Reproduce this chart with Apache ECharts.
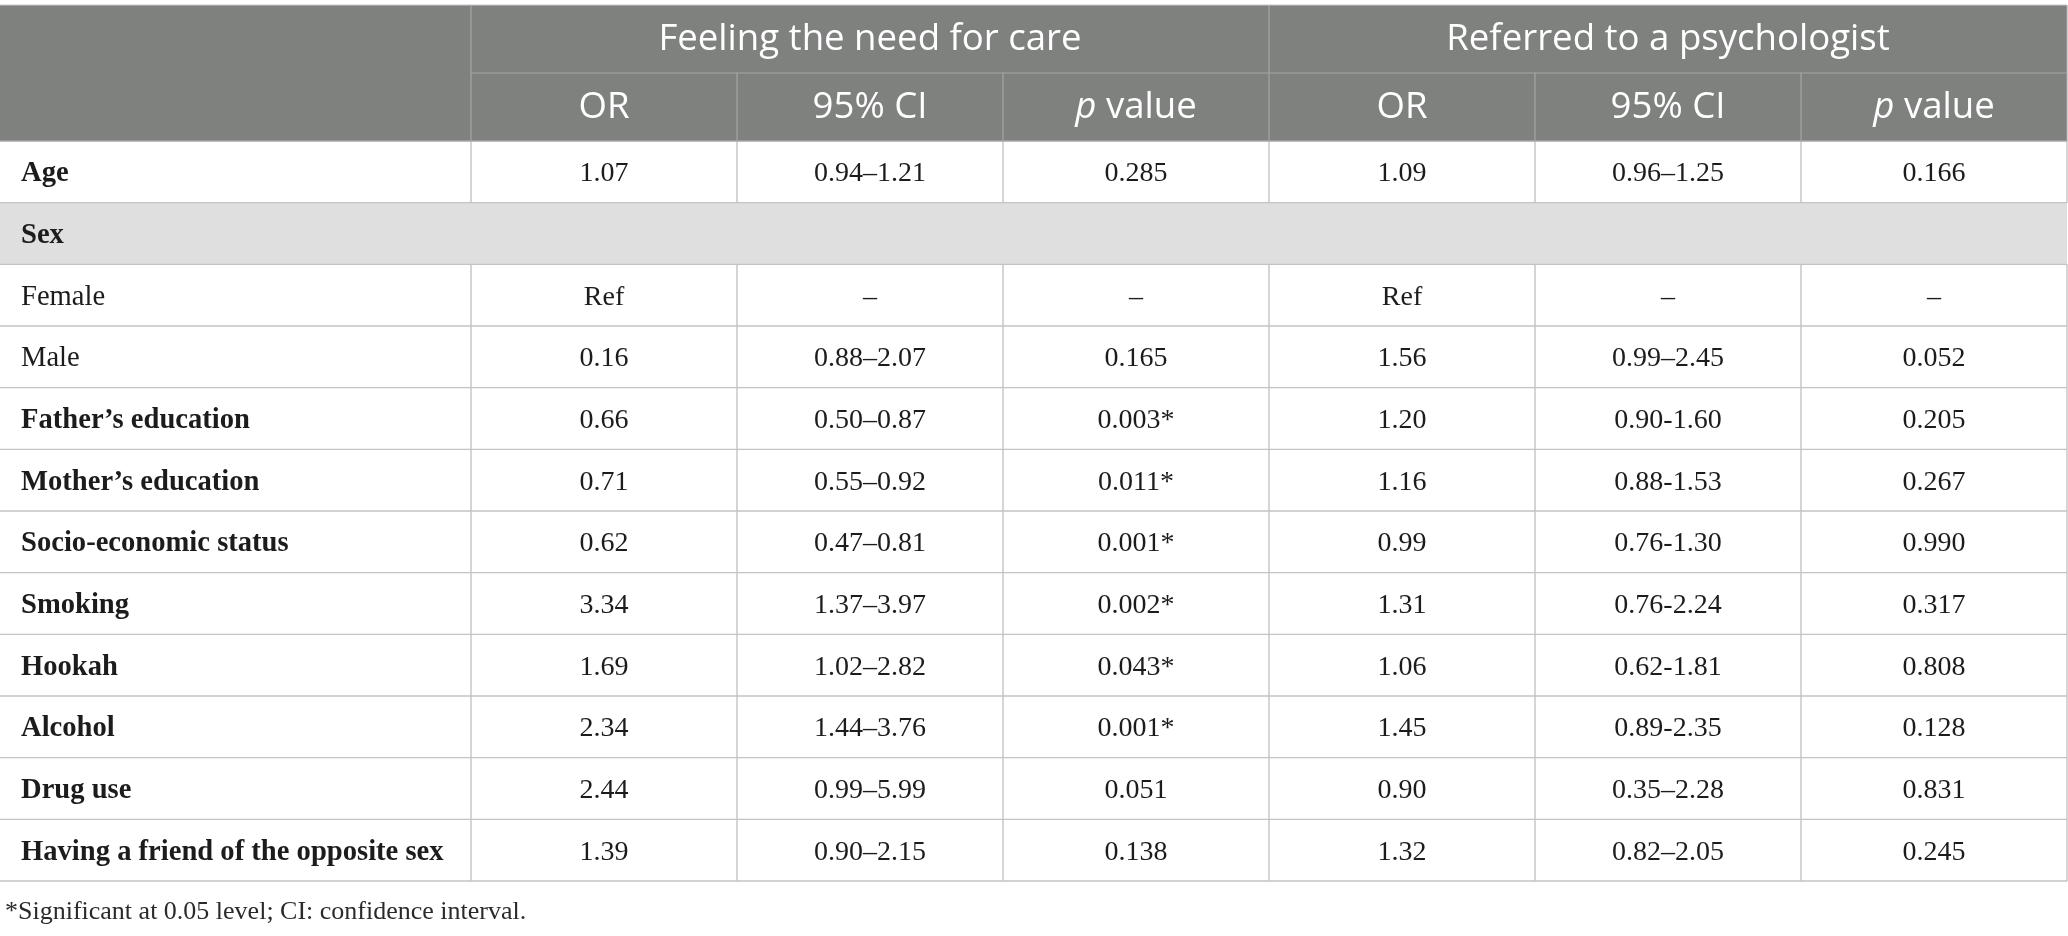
<!DOCTYPE html>
<html>
<head>
<meta charset="utf-8">
<script src="https://cdn.jsdelivr.net/npm/echarts@6/dist/echarts.min.js"></script>
<style>
html,body{margin:0;padding:0;background:#fff;}
#chart{width:2068px;height:936px;}
</style>
</head>
<body>
<div id="chart"></div>
<script>
// ---- data ----
const rowLabels = ['Age', 'Sex', 'Female', 'Male', 'Father\u2019s education', 'Mother\u2019s education',
  'Socio-economic status', 'Smoking', 'Hookah', 'Alcohol', 'Drug use', 'Having a friend of the opposite sex'];
const groupRows = ['Sex'];
const plainRows = ['Female', 'Male'];
const groupHeaders = ['Feeling the need for care', 'Referred to a psychologist'];
const subHeaders = ['OR', '95% CI', 'p value', 'OR', '95% CI', 'p value'];
const needOR = ['1.07', '', 'Ref', '0.16', '0.66', '0.71', '0.62', '3.34', '1.69', '2.34', '2.44', '1.39'];
const needCI = ['0.94\u20131.21', '', '\u2013', '0.88\u20132.07', '0.50\u20130.87', '0.55\u20130.92', '0.47\u20130.81',
  '1.37\u20133.97', '1.02\u20132.82', '1.44\u20133.76', '0.99\u20135.99', '0.90\u20132.15'];
const needP = ['0.285', '', '\u2013', '0.165', '0.003*', '0.011*', '0.001*', '0.002*', '0.043*', '0.001*', '0.051', '0.138'];
const refOR = ['1.09', '', 'Ref', '1.56', '1.20', '1.16', '0.99', '1.31', '1.06', '1.45', '0.90', '1.32'];
const refCI = ['0.96\u20131.25', '', '\u2013', '0.99\u20132.45', '0.90-1.60', '0.88-1.53', '0.76-1.30',
  '0.76-2.24', '0.62-1.81', '0.89-2.35', '0.35\u20132.28', '0.82\u20132.05'];
const refP = ['0.166', '', '\u2013', '0.052', '0.205', '0.267', '0.990', '0.317', '0.808', '0.128', '0.831', '0.245'];
const footnote = '*Significant at 0.05 level; CI: confidence interval.';

// ---- styling ----
const HEAD_BG = '#7f817f';
const HEAD_LINE = '#a4a6a4';
const BODY_LINE = '#c3c3c3';
const GROUP_BG = '#e0dfe0';
const TEXT = '#1c1c1c';
const SERIF = '"Liberation Serif", "DejaVu Serif", serif';
const SANS = '"Open Sans", "Noto Sans", sans-serif';
const BODY_SIZE = 28;
const LABEL_SIZE = 28.6;
const HEAD_SIZE = 36.6;

const columns = [needOR, needCI, needP, refOR, refCI, refP];
const colKeys = subHeaders.map((s, i) => 'c' + i);

function cell(api) {
  const c = api.coord([api.value(0), api.value(1)]);
  const s = api.size([1, 1]);
  return { x: c[0] - s[0] / 2, y: c[1] - s[1] / 2, w: s[0], h: s[1] };
}
function line(x1, y1, x2, y2, color, w) {
  return { type: 'line', z2: 10, shape: { x1, y1, x2, y2 }, style: { stroke: color, lineWidth: w } };
}

// body cells
const bodyData = [];
rowLabels.forEach((lab, r) => {
  columns.forEach((col, c) => bodyData.push([c, r, col[r]]));
});
const labelData = rowLabels.map((lab, r) => [0, r, lab]);

const option = {
  animation: false,
  backgroundColor: '#fff',
  title: {
    text: footnote, left: 0, top: 894,
    textStyle: { fontFamily: SERIF, fontSize: 26, fontWeight: 'normal', color: '#2a2a2a' }
  },
  grid: [
    { left: 0, width: 471, top: 141, height: 740 },
    { left: 471, width: 1596, top: 141, height: 740 },
    { left: 471, width: 1596, top: 5, height: 136 },
    { left: 0, width: 471, top: 5, height: 136 }
  ],
  xAxis: [
    { gridIndex: 0, type: 'category', data: ['label'], show: false },
    { gridIndex: 1, type: 'category', data: colKeys, show: false },
    { gridIndex: 2, type: 'category', data: colKeys, show: false },
    { gridIndex: 3, type: 'category', data: ['label'], show: false }
  ],
  yAxis: [
    { gridIndex: 0, type: 'category', data: rowLabels, inverse: true, show: false },
    { gridIndex: 1, type: 'category', data: rowLabels, inverse: true, show: false },
    { gridIndex: 2, type: 'category', data: ['group', 'sub'], inverse: true, show: false },
    { gridIndex: 3, type: 'category', data: ['head'], inverse: true, show: false }
  ],
  series: [
    {
      // first column labels
      type: 'custom', xAxisIndex: 0, yAxisIndex: 0, data: labelData,
      renderItem: function (params, api) {
        const b = cell(api);
        const lab = rowLabels[api.value(1)];
        const isGroup = groupRows.indexOf(lab) >= 0;
        const bold = plainRows.indexOf(lab) < 0;
        const ch = [
          { type: 'rect', z2: 0, shape: { x: b.x, y: b.y, width: b.w, height: b.h },
            style: { fill: isGroup ? GROUP_BG : '#fff' } },
          line(b.x, b.y + b.h, b.x + b.w, b.y + b.h, BODY_LINE, 1.4),
          { type: 'text', z2: 20, x: b.x + 21, y: b.y + b.h / 2 + 2,
            style: { text: lab, fill: TEXT, font: (bold ? 'bold ' : '') + LABEL_SIZE + 'px ' + SERIF,
              textAlign: 'left', textVerticalAlign: 'middle' } }
        ];
        if (!isGroup) ch.push(line(b.x + b.w, b.y, b.x + b.w, b.y + b.h, BODY_LINE, 1.4));
        return { type: 'group', children: ch };
      }
    },
    {
      // data cells
      type: 'custom', xAxisIndex: 1, yAxisIndex: 1, data: bodyData,
      renderItem: function (params, api) {
        const b = cell(api);
        const r = api.value(1);
        const lab = rowLabels[r];
        const isGroup = groupRows.indexOf(lab) >= 0;
        const txt = bodyData[params.dataIndex][2];
        const ch = [
          { type: 'rect', z2: 0, shape: { x: b.x, y: b.y, width: b.w, height: b.h },
            style: { fill: isGroup ? GROUP_BG : '#fff' } },
          line(b.x, b.y + b.h, b.x + b.w, b.y + b.h, BODY_LINE, 1.4),
          { type: 'text', z2: 20, x: b.x + b.w / 2, y: b.y + b.h / 2 + 2,
            style: { text: txt, fill: TEXT, font: BODY_SIZE + 'px ' + SERIF,
              textAlign: 'center', textVerticalAlign: 'middle' } }
        ];
        if (!isGroup) ch.push(line(b.x + b.w, b.y, b.x + b.w, b.y + b.h, BODY_LINE, 1.4));
        return { type: 'group', children: ch };
      }
    },
    {
      // header: group titles (span 3 columns) and sub headers
      type: 'custom', xAxisIndex: 2, yAxisIndex: 2,
      data: groupHeaders.map((g, i) => [i * 3, 0, g]).concat(subHeaders.map((s, i) => [i, 1, s])),
      renderItem: function (params, api) {
        const b = cell(api);
        const row = api.value(1);
        const span = row === 0 ? 3 : 1;
        const w = b.w * span;
        const txt = row === 0 ? groupHeaders[api.value(0) / 3] : subHeaders[api.value(0)];
        const isP = txt === 'p value';
        const ch = [
          { type: 'rect', z2: 0, shape: { x: b.x, y: b.y, width: w, height: b.h }, style: { fill: HEAD_BG } },
          line(b.x, b.y + b.h, b.x + w, b.y + b.h, HEAD_LINE, row === 0 ? 1.2 : 1.6),
          line(b.x + w, b.y, b.x + w, b.y + b.h, HEAD_LINE, 1.2),
          { type: 'text', z2: 20, x: b.x + w / 2, y: b.y + b.h / 2 + 1,
            style: {
              text: isP ? '{i|p} value' : txt,
              fill: '#fff', font: HEAD_SIZE + 'px ' + SANS,
              textAlign: 'center', textVerticalAlign: 'middle',
              rich: { i: { fontStyle: 'italic', fontFamily: SANS, fontSize: HEAD_SIZE, fill: '#fff' } }
            } }
        ];
        if (row === 0) ch.push(line(b.x, b.y, b.x + w, b.y, '#c9c9c9', 1.2));
        return { type: 'group', children: ch };
      }
    },
    {
      // header: empty top-left cell
      type: 'custom', xAxisIndex: 3, yAxisIndex: 3, data: [[0, 0]],
      renderItem: function (params, api) {
        const b = cell(api);
        return { type: 'group', children: [
          { type: 'rect', z2: 0, shape: { x: b.x, y: b.y, width: b.w, height: b.h }, style: { fill: HEAD_BG } },
          line(b.x, b.y, b.x + b.w, b.y, '#c9c9c9', 1.2),
          line(b.x, b.y + b.h, b.x + b.w, b.y + b.h, HEAD_LINE, 1.6),
          line(b.x + b.w, b.y, b.x + b.w, b.y + b.h, HEAD_LINE, 1.2)
        ] };
      }
    }
  ]
};

const chart = echarts.init(document.getElementById('chart'), null, { renderer: 'canvas' });
chart.setOption(option);
</script>
</body>
</html>
